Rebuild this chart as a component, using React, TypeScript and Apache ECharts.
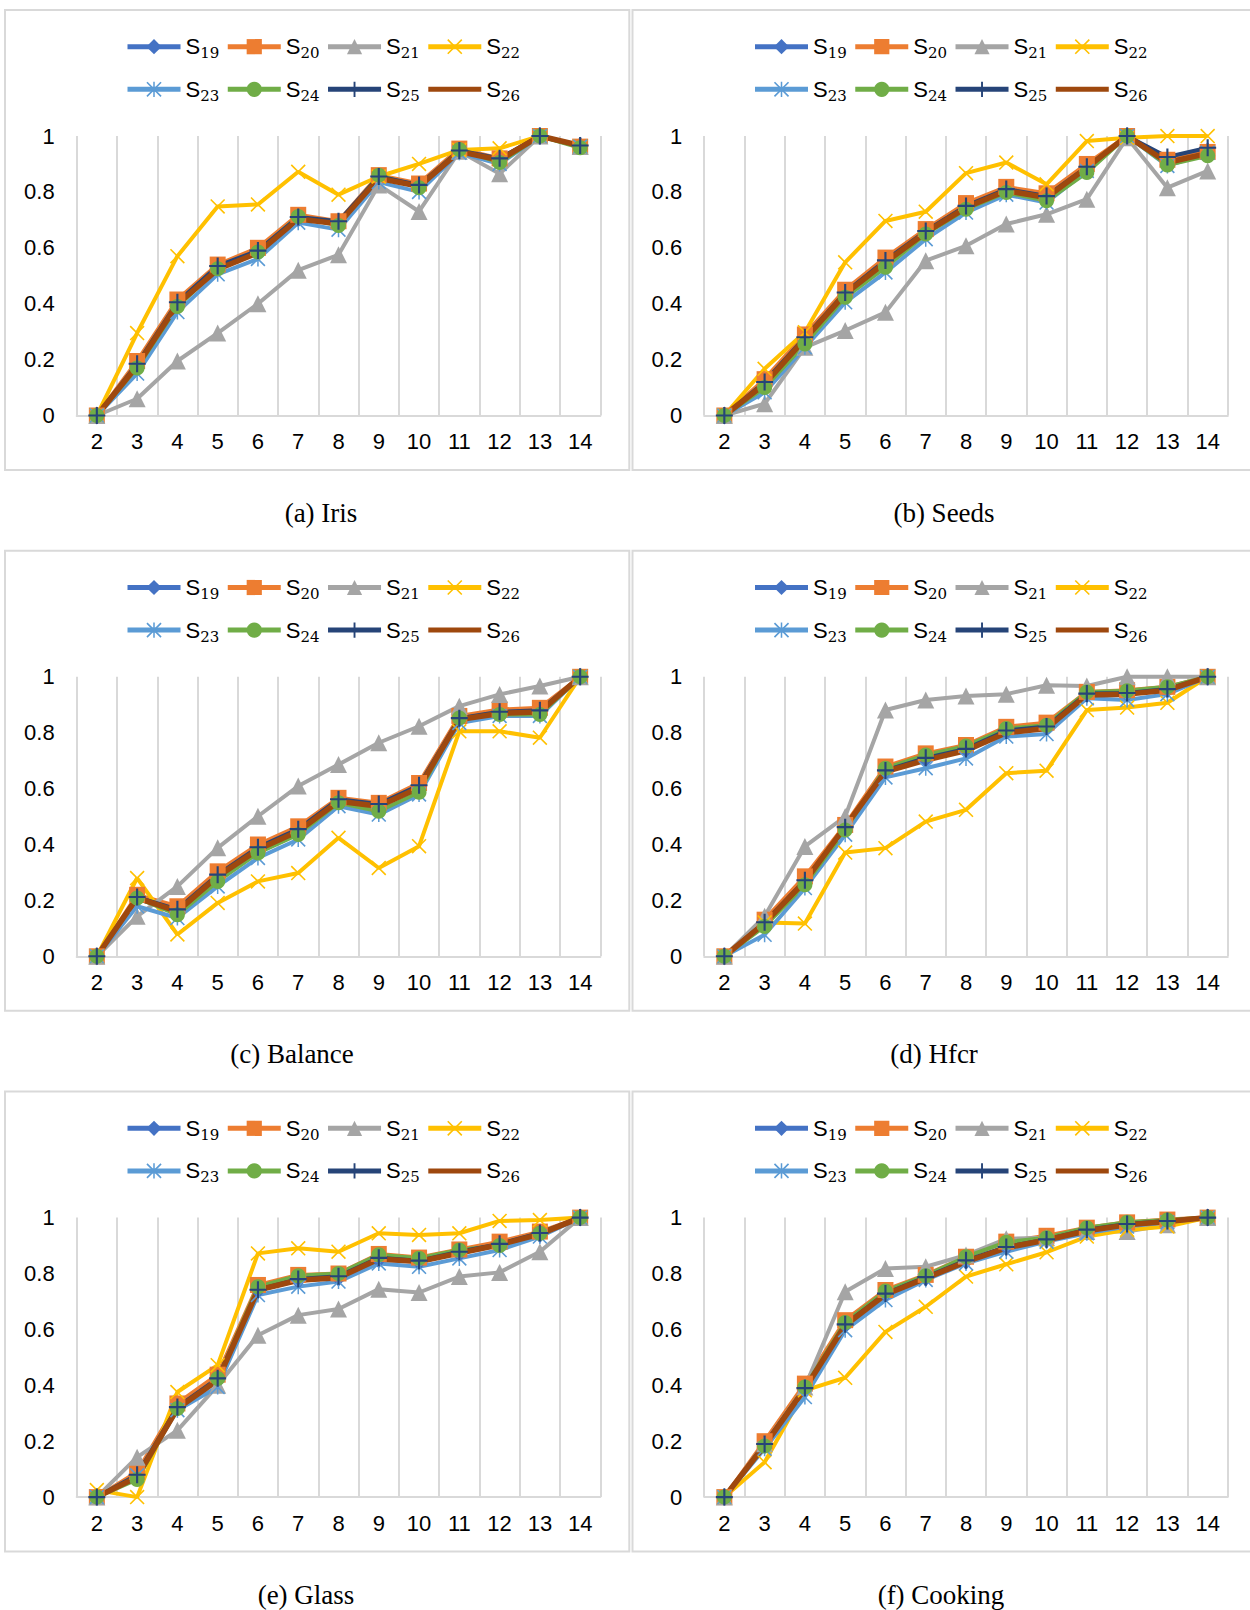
import React, { useEffect, useRef } from "react";
import * as echarts from "echarts";

// ---------- data ----------
const categories = ["2", "3", "4", "5", "6", "7", "8", "9", "10", "11", "12", "13", "14"];
const seriesNames = ["S19", "S20", "S21", "S22", "S23", "S24", "S25", "S26"];
const panelTitles = ["(a) Iris", "(b) Seeds", "(c) Balance", "(d) Hfcr", "(e) Glass", "(f) Cooking"];

// (a) Iris
const irisS19 = [0, 0.18, 0.4, 0.53, 0.585, 0.705, 0.69, 0.85, 0.82, 0.945, 0.915, 1, 0.965];
const irisS20 = [0, 0.195, 0.415, 0.54, 0.6, 0.718, 0.695, 0.86, 0.83, 0.955, 0.92, 1, 0.962];
const irisS21 = [0, 0.06, 0.195, 0.295, 0.4, 0.52, 0.575, 0.825, 0.73, 0.945, 0.865, 1, 0.962];
const irisS22 = [0, 0.295, 0.57, 0.748, 0.755, 0.872, 0.79, 0.855, 0.9, 0.95, 0.956, 1, 0.962];
const irisS23 = [0, 0.15, 0.37, 0.505, 0.56, 0.69, 0.665, 0.835, 0.8, 0.94, 0.9, 1, 0.962];
const irisS24 = [0, 0.17, 0.39, 0.525, 0.585, 0.712, 0.68, 0.86, 0.815, 0.952, 0.905, 1, 0.958];
const irisS25 = [0, 0.185, 0.405, 0.535, 0.59, 0.71, 0.695, 0.855, 0.825, 0.948, 0.92, 1, 0.966];
const irisS26 = [0, 0.178, 0.398, 0.523, 0.582, 0.703, 0.686, 0.849, 0.82, 0.944, 0.914, 1, 0.966];

// (b) Seeds
const seedsS19 = [0, 0.115, 0.275, 0.435, 0.55, 0.658, 0.745, 0.805, 0.78, 0.885, 1, 0.91, 0.945];
const seedsS20 = [0, 0.13, 0.29, 0.45, 0.565, 0.667, 0.76, 0.818, 0.795, 0.9, 1, 0.915, 0.943];
const seedsS21 = [0, 0.042, 0.244, 0.304, 0.369, 0.554, 0.607, 0.685, 0.72, 0.774, 0.994, 0.815, 0.875];
const seedsS22 = [0, 0.167, 0.298, 0.548, 0.696, 0.729, 0.867, 0.905, 0.827, 0.982, 0.994, 1, 1];
const seedsS23 = [0, 0.083, 0.244, 0.405, 0.512, 0.631, 0.726, 0.79, 0.762, 0.875, 1, 0.893, 0.94];
const seedsS24 = [0, 0.1, 0.256, 0.423, 0.53, 0.649, 0.738, 0.798, 0.768, 0.869, 1, 0.896, 0.929];
const seedsS25 = [0, 0.12, 0.28, 0.44, 0.555, 0.66, 0.75, 0.81, 0.785, 0.89, 1, 0.925, 0.958];
const seedsS26 = [0, 0.113, 0.274, 0.435, 0.548, 0.655, 0.744, 0.804, 0.78, 0.887, 1, 0.905, 0.938];

// (c) Balance
const balanceS19 = [0, 0.205, 0.165, 0.29, 0.385, 0.45, 0.558, 0.54, 0.607, 0.85, 0.872, 0.877, 1];
const balanceS20 = [0, 0.22, 0.179, 0.304, 0.4, 0.465, 0.567, 0.549, 0.62, 0.86, 0.883, 0.889, 1];
const balanceS21 = [0, 0.143, 0.25, 0.388, 0.501, 0.609, 0.686, 0.764, 0.823, 0.895, 0.937, 0.967, 1];
const balanceS22 = [0, 0.28, 0.078, 0.191, 0.268, 0.298, 0.424, 0.316, 0.394, 0.805, 0.805, 0.782, 1];
const balanceS23 = [0, 0.179, 0.137, 0.25, 0.352, 0.418, 0.537, 0.507, 0.579, 0.835, 0.86, 0.86, 1];
const balanceS24 = [0, 0.209, 0.149, 0.268, 0.37, 0.436, 0.549, 0.519, 0.587, 0.853, 0.865, 0.865, 1];
const balanceS25 = [0, 0.212, 0.168, 0.292, 0.39, 0.455, 0.562, 0.545, 0.612, 0.852, 0.875, 0.88, 1];
const balanceS26 = [0, 0.209, 0.161, 0.286, 0.382, 0.447, 0.555, 0.537, 0.603, 0.847, 0.869, 0.874, 1];

// (d) Hfcr
const hfcrS19 = [0, 0.12, 0.27, 0.465, 0.663, 0.705, 0.74, 0.805, 0.82, 0.937, 0.94, 0.955, 1];
const hfcrS20 = [0, 0.131, 0.286, 0.47, 0.679, 0.726, 0.756, 0.821, 0.836, 0.946, 0.952, 0.964, 1];
const hfcrS21 = [0, 0.143, 0.393, 0.5, 0.881, 0.917, 0.931, 0.938, 0.97, 0.967, 1, 1, 1];
const hfcrS22 = [0, 0.121, 0.117, 0.371, 0.387, 0.482, 0.524, 0.655, 0.664, 0.881, 0.89, 0.907, 1];
const hfcrS23 = [0, 0.077, 0.244, 0.435, 0.64, 0.673, 0.708, 0.786, 0.795, 0.923, 0.917, 0.938, 1];
const hfcrS24 = [0, 0.107, 0.256, 0.452, 0.673, 0.72, 0.752, 0.815, 0.827, 0.946, 0.95, 0.964, 1];
const hfcrS25 = [0, 0.122, 0.272, 0.462, 0.665, 0.71, 0.742, 0.808, 0.822, 0.94, 0.942, 0.956, 1];
const hfcrS26 = [0, 0.119, 0.268, 0.464, 0.661, 0.702, 0.736, 0.8, 0.815, 0.935, 0.938, 0.952, 1];

// (e) Glass
const glassS19 = [0, 0.075, 0.32, 0.42, 0.74, 0.775, 0.785, 0.85, 0.842, 0.872, 0.902, 0.94, 1];
const glassS20 = [0, 0.09, 0.335, 0.438, 0.759, 0.795, 0.8, 0.87, 0.857, 0.886, 0.914, 0.95, 1];
const glassS21 = [0, 0.143, 0.239, 0.4, 0.579, 0.651, 0.673, 0.744, 0.732, 0.789, 0.804, 0.878, 1];
const glassS22 = [0.025, 0, 0.376, 0.472, 0.872, 0.89, 0.878, 0.944, 0.938, 0.944, 0.988, 0.991, 1];
const glassS23 = [0, 0.078, 0.311, 0.394, 0.723, 0.753, 0.771, 0.836, 0.824, 0.854, 0.884, 0.932, 1];
const glassS24 = [0, 0.063, 0.317, 0.424, 0.753, 0.792, 0.8, 0.867, 0.855, 0.884, 0.9, 0.944, 1];
const glassS25 = [0, 0.08, 0.322, 0.425, 0.742, 0.78, 0.79, 0.856, 0.846, 0.878, 0.906, 0.945, 1];
const glassS26 = [0, 0.072, 0.317, 0.418, 0.741, 0.776, 0.785, 0.852, 0.843, 0.873, 0.903, 0.941, 1];

// (f) Cooking
const cookingS19 = [0, 0.185, 0.39, 0.617, 0.727, 0.785, 0.845, 0.895, 0.922, 0.955, 0.975, 0.987, 1];
const cookingS20 = [0, 0.2, 0.406, 0.633, 0.741, 0.795, 0.86, 0.914, 0.935, 0.964, 0.983, 0.993, 1];
const cookingS21 = [0, 0.191, 0.394, 0.735, 0.818, 0.824, 0.866, 0.924, 0.928, 0.95, 0.95, 0.974, 1];
const cookingS22 = [0, 0.125, 0.382, 0.427, 0.591, 0.681, 0.789, 0.833, 0.876, 0.932, 0.956, 0.968, 1];
const cookingS23 = [0, 0.173, 0.358, 0.597, 0.705, 0.777, 0.836, 0.878, 0.914, 0.944, 0.968, 0.983, 1];
const cookingS24 = [0, 0.183, 0.394, 0.625, 0.737, 0.792, 0.86, 0.912, 0.928, 0.964, 0.983, 0.991, 1];
const cookingS25 = [0, 0.19, 0.39, 0.618, 0.728, 0.787, 0.847, 0.895, 0.922, 0.957, 0.977, 0.988, 1];
const cookingS26 = [0, 0.185, 0.388, 0.615, 0.725, 0.783, 0.842, 0.892, 0.92, 0.953, 0.974, 0.986, 1];

const panelData = [
  [irisS19, irisS20, irisS21, irisS22, irisS23, irisS24, irisS25, irisS26],
  [seedsS19, seedsS20, seedsS21, seedsS22, seedsS23, seedsS24, seedsS25, seedsS26],
  [balanceS19, balanceS20, balanceS21, balanceS22, balanceS23, balanceS24, balanceS25, balanceS26],
  [hfcrS19, hfcrS20, hfcrS21, hfcrS22, hfcrS23, hfcrS24, hfcrS25, hfcrS26],
  [glassS19, glassS20, glassS21, glassS22, glassS23, glassS24, glassS25, glassS26],
  [cookingS19, cookingS20, cookingS21, cookingS22, cookingS23, cookingS24, cookingS25, cookingS26],
];

// ---------- styles ----------
const COLORS = ["#4472C4", "#ED7D31", "#A5A5A5", "#FFC000", "#5B9BD5", "#70AD47", "#264478", "#9E480E"];
const X_PATH = "path://M0,1.5L1.5,0L20,18.5L18.5,20Z M18.5,0L20,1.5L1.5,20L0,18.5Z";
const STAR_PATH = "path://M0,1.5L1.5,0L20,18.5L18.5,20Z M18.5,0L20,1.5L1.5,20L0,18.5Z M9,0L11,0L11,20L9,20Z";
const PLUS_PATH = "path://M8.75,0L11.25,0L11.25,20L8.75,20Z M0,8.75L20,8.75L20,11.25L0,11.25Z";
const SYMBOLS = ["diamond", "rect", "triangle", X_PATH, STAR_PATH, "circle", PLUS_PATH, "none"];
const SYMBOL_SIZES: any[] = [[15, 18], 16, 17, 15, 15, 15, 17, 0];
const LINE_WIDTHS = [4, 4, 4, 4, 4, 4, 4, 5.5];

const GRID_COLOR = "#D9D9D9";
const COL_DX = 627.5;
const ROW_DY = 540.8;
const CAPTION_X = [321, 944, 292, 934, 306, 941];

function buildOption() {
  const grid: any[] = [];
  const xAxis: any[] = [];
  const yAxis: any[] = [];
  const legend: any[] = [];
  const series: any[] = [];
  const graphic: any[] = [];

  const rich = {
    s: { fontFamily: "Liberation Sans", fontSize: 22, color: "#000", lineHeight: 28, verticalAlign: "middle" },
    sub: { fontFamily: "DejaVu Serif", fontSize: 15, color: "#000", lineHeight: 15, verticalAlign: "bottom" },
  };

  panelData.forEach((lines, p) => {
    const col = p % 2;
    const row = Math.floor(p / 2);
    const ox = col * COL_DX;
    const oy = row * ROW_DY;

    graphic.push({
      type: "rect",
      silent: true,
      z: 0,
      shape: { x: 5 + ox, y: 10 + oy, width: 624.3, height: 460 },
      style: { fill: "none", stroke: GRID_COLOR, lineWidth: 2 },
    });
    graphic.push({
      type: "text",
      silent: true,
      x: CAPTION_X[p],
      y: 513 + oy,
      style: {
        text: panelTitles[p],
        fontFamily: "Liberation Serif",
        fontSize: 27,
        fill: "#000",
        align: "center",
        verticalAlign: "middle",
      },
    });

    grid.push({ left: 76.7 + ox, top: 136 + oy, width: 523.6, height: 279.5 });
    xAxis.push({
      type: "category",
      gridIndex: p,
      data: categories,
      boundaryGap: true,
      axisLine: { lineStyle: { color: GRID_COLOR, width: 2 } },
      axisTick: { show: false },
      axisLabel: { fontFamily: "Liberation Sans", fontSize: 22, color: "#000", margin: 15, interval: 0 },
      splitLine: { show: true, lineStyle: { color: GRID_COLOR, width: 2 } },
    });
    yAxis.push({
      type: "value",
      gridIndex: p,
      min: 0,
      max: 1,
      interval: 0.2,
      axisLine: { show: false },
      axisTick: { show: false },
      splitLine: { show: false },
      axisLabel: {
        fontFamily: "Liberation Sans",
        fontSize: 22,
        color: "#000",
        margin: 22,
        formatter: (v: number) => String(parseFloat(v.toFixed(1))),
      },
    });

    [0, 1].forEach((r) => {
      legend.push({
        left: 125 + ox,
        top: (r === 0 ? 35.7 : 78.3) + oy,
        orient: "horizontal",
        padding: 0,
        itemWidth: 53,
        itemHeight: 19,
        itemGap: 6,
        selectedMode: false,
        data: seriesNames.slice(r * 4, r * 4 + 4),
        lineStyle: { width: 5 },
        formatter: (name: string) => `{s|S}{sub|${name.slice(1)}}`,
        textStyle: { width: 36, rich },
      });
    });

    lines.forEach((values, k) => {
      series.push({
        type: "line",
        name: seriesNames[k],
        xAxisIndex: p,
        yAxisIndex: p,
        data: values,
        clip: false,
        symbol: SYMBOLS[k],
        symbolSize: SYMBOL_SIZES[k],
        showSymbol: SYMBOLS[k] !== "none",
        lineStyle: { color: COLORS[k], width: LINE_WIDTHS[k] },
        itemStyle: k === 7 ? { color: COLORS[k], opacity: 0 } : { color: COLORS[k] },
        emphasis: { disabled: true },
        silent: true,
      });
    });
  });

  return {
    animation: false,
    backgroundColor: "#ffffff",
    grid,
    xAxis,
    yAxis,
    legend,
    series,
    graphic,
  };
}

export default function App() {
  const ref = useRef<HTMLDivElement>(null);
  useEffect(() => {
    document.body.style.margin = "0";
    const chart = echarts.init(ref.current as HTMLDivElement, null, { renderer: "svg", width: 1250, height: 1610 });
    chart.setOption(buildOption() as any);
    return () => chart.dispose();
  }, []);
  return <div ref={ref} style={{ width: 1250, height: 1610, background: "#fff" }} />;
}
